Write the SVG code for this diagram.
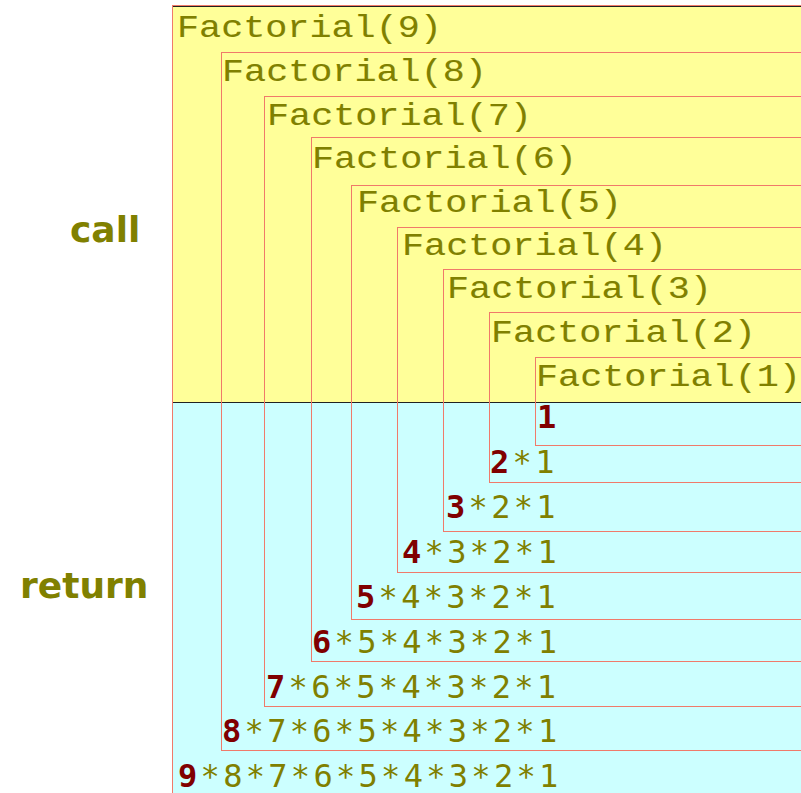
<svg xmlns="http://www.w3.org/2000/svg" width="801" height="793" viewBox="0 0 801 793">
  <style>
    .frame { fill: none; stroke: #f07a6a; stroke-width: 1; }
    .call { font-family: "Liberation Mono", "Courier New", monospace; font-size: 32px; fill: #808000; stroke: #808000; stroke-width: 0.12px; }
    .ret { font-family: "DejaVu Sans Mono", monospace; font-size: 32px; letter-spacing: 3.3px; fill: #808000; }
    .ret .n { font-weight: bold; fill: #800000; }
    .side { font-family: "DejaVu Sans", Verdana, sans-serif; font-size: 36px; font-weight: bold; fill: #808000; }
  </style>

  <!-- phase backgrounds -->
  <g id="phases">
    <rect x="172" y="7" width="640" height="395.5" fill="#ffff99"/>
    <rect x="172" y="403" width="640" height="400" fill="#ccffff"/>
    <line x1="172" y1="6.5" x2="801" y2="6.5" stroke="#222" stroke-width="1"/>
    <line x1="172" y1="402.5" x2="801" y2="402.5" stroke="#222" stroke-width="1"/>
    <text class="side" x="70" y="242">call</text>
    <text class="side" x="20" y="598">return</text>
  </g>

  <!-- one frame per recursive call; call label stretched to the wide mono face -->
  <g id="f9">
    <rect class="frame" x="172.5" y="5.5" width="650" height="800"/>
    <text class="call" transform="translate(177,37) scale(1.15,1)">Factorial(9)</text>
    <text class="ret" x="178" y="787"><tspan class="n">9</tspan>*8*7*6*5*4*3*2*1</text>
  </g>
  <g id="f8">
    <rect class="frame" x="221.5" y="52.5" width="600" height="698"/>
    <text class="call" transform="translate(222,81) scale(1.15,1)">Factorial(8)</text>
    <text class="ret" x="222" y="742"><tspan class="n">8</tspan>*7*6*5*4*3*2*1</text>
  </g>
  <g id="f7">
    <rect class="frame" x="264.5" y="96.5" width="560" height="610"/>
    <text class="call" transform="translate(267,125) scale(1.15,1)">Factorial(7)</text>
    <text class="ret" x="266" y="698"><tspan class="n">7</tspan>*6*5*4*3*2*1</text>
  </g>
  <g id="f6">
    <rect class="frame" x="311.5" y="137.5" width="510" height="524"/>
    <text class="call" transform="translate(312,168) scale(1.15,1)">Factorial(6)</text>
    <text class="ret" x="312" y="653"><tspan class="n">6</tspan>*5*4*3*2*1</text>
  </g>
  <g id="f5">
    <rect class="frame" x="351.5" y="185.5" width="470" height="434"/>
    <text class="call" transform="translate(357,212) scale(1.15,1)">Factorial(5)</text>
    <text class="ret" x="356" y="608"><tspan class="n">5</tspan>*4*3*2*1</text>
  </g>
  <g id="f4">
    <rect class="frame" x="397.5" y="227.5" width="420" height="345"/>
    <text class="call" transform="translate(402,255) scale(1.15,1)">Factorial(4)</text>
    <text class="ret" x="402" y="563"><tspan class="n">4</tspan>*3*2*1</text>
  </g>
  <g id="f3">
    <rect class="frame" x="443.5" y="269.5" width="380" height="262"/>
    <text class="call" transform="translate(447,298) scale(1.15,1)">Factorial(3)</text>
    <text class="ret" x="446" y="518"><tspan class="n">3</tspan>*2*1</text>
  </g>
  <g id="f2">
    <rect class="frame" x="489.5" y="312.5" width="330" height="170"/>
    <text class="call" transform="translate(491,342) scale(1.15,1)">Factorial(2)</text>
    <text class="ret" x="490" y="473"><tspan class="n">2</tspan>*1</text>
  </g>
  <g id="f1">
    <rect class="frame" x="535.5" y="357.5" width="290" height="88"/>
    <text class="call" transform="translate(536,386) scale(1.15,1)">Factorial(1)</text>
    <text class="ret" x="537" y="428"><tspan class="n">1</tspan></text>
  </g>
</svg>
